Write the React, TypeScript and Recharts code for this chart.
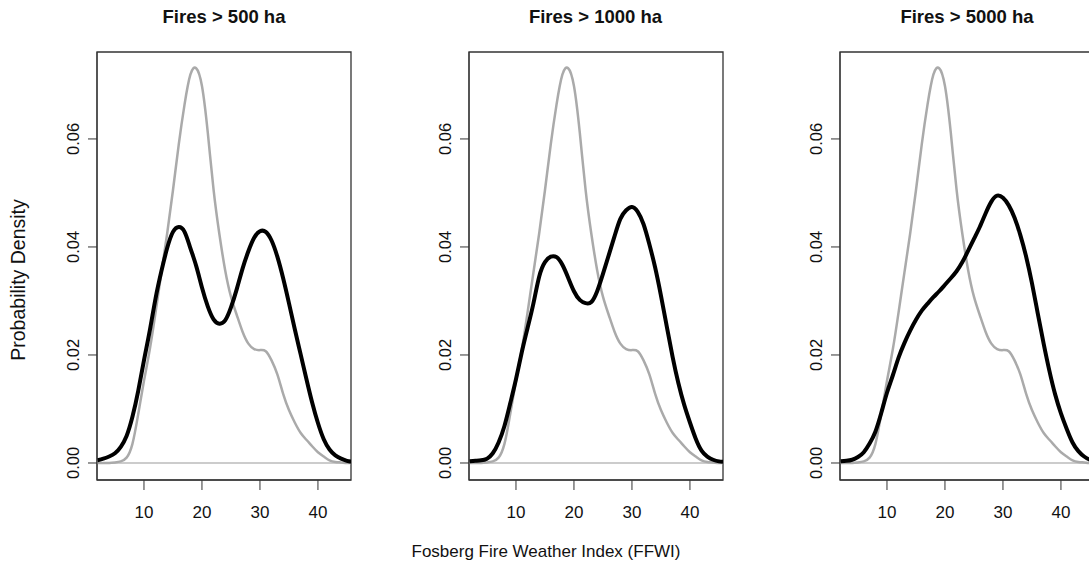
import {
  LineChart,
  Line,
  XAxis,
  YAxis,
  ReferenceLine,
  ReferenceArea,
} from "recharts";

// FFWI grid (x values shared by every curve)
const ffwi = [
  2, 3, 4, 5, 6, 7, 8, 9, 10, 11, 12, 13, 14, 15, 16, 17, 18, 19, 20, 21, 22, 23, 24,
  25, 26, 27, 28, 29, 30, 31, 32, 33, 34, 35, 36, 37, 38, 39, 40, 41, 42, 43, 44, 45, 46,
];

// grey: all days
const allDays = [
  0, 0, 0, 0.0001, 0.0003, 0.001, 0.0035, 0.009, 0.0152, 0.021, 0.0279, 0.0352,
  0.0425, 0.0505, 0.059, 0.0664, 0.0719, 0.0731, 0.0698, 0.0612, 0.0506, 0.0424, 0.0357,
  0.0308, 0.0274, 0.0243, 0.0221, 0.0211, 0.0209, 0.0207, 0.019, 0.0164, 0.0128, 0.0098,
  0.0075, 0.0056, 0.0043, 0.0031, 0.002, 0.0012, 0.0005, 0.0002, 0.0001, 0, 0,
];

// black: fire days
const fires500 = [
  0.0005, 0.0008, 0.0012, 0.0018, 0.003, 0.005, 0.0085, 0.0133, 0.019, 0.0245, 0.0305,
  0.0355, 0.0398, 0.0428, 0.0437, 0.0428, 0.0398, 0.0365, 0.0325, 0.029, 0.0266, 0.0258,
  0.0264, 0.0288, 0.0322, 0.036, 0.0392, 0.0417, 0.0429, 0.0428, 0.0412, 0.0382, 0.0342,
  0.0296, 0.0248, 0.0202, 0.0156, 0.0112, 0.0074, 0.0044, 0.0025, 0.0014, 0.0008, 0.0004,
  0.0002,
];

const fires1000 = [
  0.0003, 0.0004, 0.0005, 0.0008, 0.0018, 0.0038, 0.0068, 0.011, 0.0155, 0.0205, 0.025,
  0.0295, 0.0345, 0.0372, 0.0382, 0.0381, 0.0367, 0.0343, 0.0318, 0.0302, 0.0296, 0.0298,
  0.0318, 0.035, 0.0385, 0.042, 0.0452, 0.0468, 0.0474, 0.0465, 0.0442, 0.0405, 0.0362,
  0.031, 0.0253, 0.0197, 0.0148, 0.0108, 0.0075, 0.0045, 0.0023, 0.0012, 0.0006, 0.0003,
  0.0002,
];

const fires5000 = [
  0.0003, 0.0004, 0.0006, 0.0011, 0.002, 0.0036, 0.0058, 0.0092, 0.013, 0.0162, 0.0195,
  0.0222, 0.0245, 0.0265, 0.0282, 0.0295, 0.0307, 0.0318, 0.033, 0.0342, 0.0355, 0.0372,
  0.0393, 0.0415, 0.0437, 0.0462, 0.0484, 0.0495, 0.0491, 0.0477, 0.0454, 0.0422, 0.0382,
  0.0333, 0.0277, 0.0222, 0.0171, 0.0127, 0.0092, 0.0063, 0.0038, 0.0022, 0.0012, 0.0006,
  0.0003,
];

const panelTitles = ["Fires > 500 ha", "Fires > 1000 ha", "Fires > 5000 ha"];
const panelSeries = [fires500, fires1000, fires5000];

const xTicks = [10, 20, 30, 40];
const yTicks = [0, 0.02, 0.04, 0.06];

const xDomain: [number, number] = [1.9, 45.7];
const yDomain: [number, number] = [-0.00315, 0.0761];

const FONT = "'Liberation Sans', Arial, sans-serif";
const PANEL_W = 372;
const CHART_H = 568;

function XTick(props: any) {
  const { x, y, payload } = props;
  return (
    <text
      x={x}
      y={y + 26}
      textAnchor="middle"
      fontSize={17}
      fontFamily={FONT}
      fill="#111"
    >
      {payload.value}
    </text>
  );
}

function YTick(props: any) {
  const { x, y, payload } = props;
  const tx = x - 7;
  return (
    <text
      x={tx}
      y={y}
      transform={`rotate(-90, ${tx}, ${y})`}
      textAnchor="middle"
      fontSize={16.5}
      fontFamily={FONT}
      fill="#111"
    >
      {Number(payload.value).toFixed(2)}
    </text>
  );
}

function Panel({ fire }: { fire: number[] }) {
  const rows = ffwi.map((x, i) => ({
    x,
    all: allDays[i],
    fire: fire[i],
  }));

  return (
    <LineChart
      width={PANEL_W}
      height={CHART_H}
      data={rows}
      margin={{ top: 52, right: 21, bottom: 0, left: 0 }}
    >
      <XAxis
        dataKey="x"
        type="number"
        domain={xDomain}
        allowDataOverflow
        ticks={xTicks}
        height={88}
        tickSize={10}
        tickMargin={2}
        tick={XTick}
        stroke="#333"
      />
      <YAxis
        type="number"
        domain={yDomain}
        allowDataOverflow
        ticks={yTicks}
        width={97}
        tickSize={9}
        tickMargin={2}
        tick={YTick}
        stroke="#333"
      />
      <ReferenceArea
        x1={xDomain[0]}
        x2={xDomain[1]}
        y1={yDomain[0]}
        y2={yDomain[1]}
        fill="none"
        stroke="#333"
        strokeWidth={1.3}
      />
      <ReferenceLine y={0} stroke="#bbb" strokeWidth={1.5} />
      <Line
        dataKey="all"
        type="natural"
        stroke="#aaa"
        strokeWidth={2.5}
        dot={false}
        isAnimationActive={false}
      />
      <Line
        dataKey="fire"
        type="natural"
        stroke="#000"
        strokeWidth={4}
        dot={false}
        isAnimationActive={false}
      />
    </LineChart>
  );
}

export default function App() {
  return (
    <div
      style={{
        position: "absolute",
        left: 0,
        top: 0,
        width: 1089,
        height: 568,
        overflow: "hidden",
        background: "#fff",
        fontFamily: FONT,
      }}
    >
      {panelSeries.map((s, i) => (
        <div
          key={i}
          style={{ position: "absolute", left: i * 371.5, top: 0 }}
        >
          <Panel fire={s} />
        </div>
      ))}

      <svg
        width={1089}
        height={568}
        style={{ position: "absolute", left: 0, top: 0, pointerEvents: "none" }}
      >
        {panelTitles.map((t, i) => (
          <text
            key={t}
            x={224 + i * 371.5}
            y={23}
            textAnchor="middle"
            fontSize={18.5}
            fontWeight="bold"
            fontFamily={FONT}
            fill="#111"
          >
            {t}
          </text>
        ))}
        <text
          x={25}
          y={280}
          transform="rotate(-90, 25, 280)"
          textAnchor="middle"
          fontSize={19.5}
          fontFamily={FONT}
          fill="#111"
        >
          Probability Density
        </text>
        <text
          x={546}
          y={557}
          textAnchor="middle"
          fontSize={17}
          fontFamily={FONT}
          fill="#111"
        >
          Fosberg Fire Weather Index (FFWI)
        </text>
      </svg>
    </div>
  );
}
